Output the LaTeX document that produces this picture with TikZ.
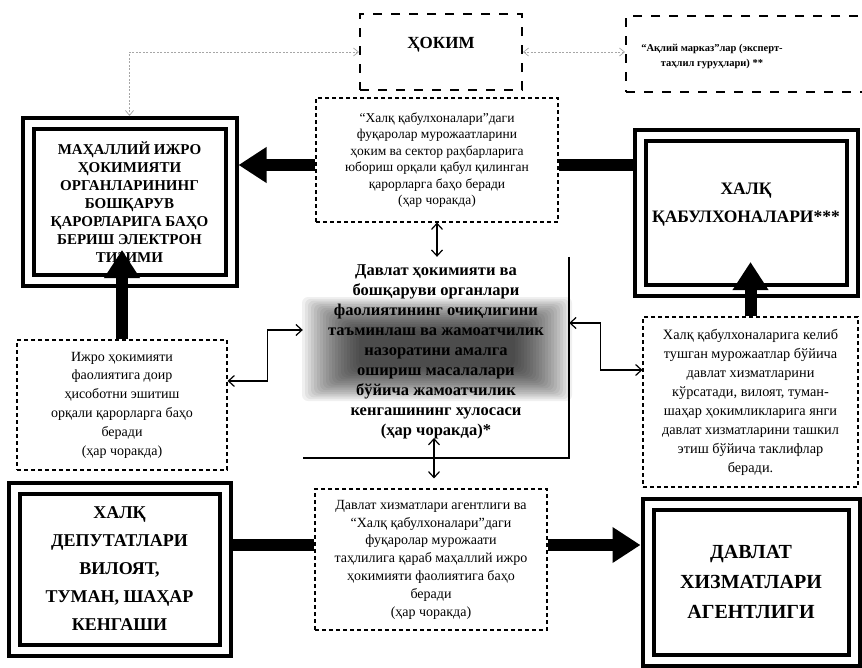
\documentclass[tikz,border=0pt]{standalone}
\usepackage{fontspec}
\setmainfont{Liberation Serif}
\usetikzlibrary{arrows.meta,calc}
\begin{document}
\begin{tikzpicture}[x=1pt,y=1pt,
  frame/.style={draw, double, double distance=7pt, line width=4pt, outer sep=7.5pt, inner sep=0pt, align=center},
  dbox/.style={draw, dash pattern=on 4pt off 3pt, line width=1.1pt, inner sep=0pt, align=center},
  hbox/.style={draw, dash pattern=on 9pt off 9pt, line width=2pt, inner sep=0pt},
  bigarrow/.style={line width=12pt, -{Triangle[length=28pt,width=34pt]}},
  thickbar/.style={line width=12pt},
  thinarrow/.style={line width=1.2pt, {Straight Barb[length=6pt,width=11pt]}-{Straight Barb[length=6pt,width=11pt]}},
  light/.style={gray!70, line width=0.7pt, dash pattern=on 2pt off 1.5pt, {Straight Barb[length=5pt,width=8pt]}-{Straight Barb[length=5pt,width=8pt]}},
]
\useasboundingbox (0,0) rectangle (862,-667);

% top dashed boxes
\node[hbox, minimum width=162pt, minimum height=76pt] (hokim) at (441,-52) {};
\node[font=\bfseries\fontsize{17}{20}\selectfont] (hokimt) at (441,-45) {ҲОКИМ};
\node[hbox, minimum width=240pt, minimum height=76pt] (aqliy) at (746,-54) {};
\node[font=\bfseries\fontsize{10.5}{15}\selectfont, align=center] (aqliyt) at (712,-56) {“Ақлий марказ”лар (эксперт-\\таҳлил гуруҳлари) **};

% text boxes
\node[dbox, minimum width=242pt, minimum height=124pt, font=\fontsize{13.5}{16.5}\selectfont] (topmid) at (437,-160)
  {“Халқ қабулхоналари”даги\\фуқаролар мурожаатларини\\ҳоким ва сектор раҳбарларига\\юбориш орқали қабул қилинган\\қарорларга баҳо беради\\(ҳар чоракда)};
\node[dbox, minimum width=210pt, minimum height=130pt, font=\fontsize{14}{18.8}\selectfont] (ijro) at (122,-405)
  {Ижро ҳокимияти\\фаолиятига доир\\ҳисоботни эшитиш\\орқали қарорларга баҳо\\беради\\(ҳар чоракда)};
\node[dbox, minimum width=215pt, minimum height=170pt, font=\fontsize{14.3}{19}\selectfont] (rmid) at (750.5,-402)
  {Халқ қабулхоналарига келиб\\тушган мурожаатлар бўйича\\давлат хизматларини\\кўрсатади, вилоят, туман-\\шаҳар ҳокимликларига янги\\давлат хизматларини ташкил\\этиш бўйича таклифлар\\беради.};
\node[dbox, minimum width=232pt, minimum height=141pt, font=\fontsize{14}{17.8}\selectfont] (bmid) at (431,-559.5)
  {Давлат хизматлари агентлиги ва\\“Халқ қабулхоналари”даги\\фуқаролар мурожаати\\таҳлилига қараб маҳаллий ижро\\ҳокимияти фаолиятига баҳо\\беради\\(ҳар чоракда)};

% framed boxes
\node[frame, minimum width=203pt, minimum height=157pt, font=\bfseries\fontsize{15}{18}\selectfont] (lbox) at (129.5,-202)
  {МАҲАЛЛИЙ ИЖРО\\ҲОКИМИЯТИ\\ОРГАНЛАРИНИНГ\\БОШҚАРУВ\\ҚАРОРЛАРИГА БАҲО\\БЕРИШ ЭЛЕКТРОН\\ТИЗИМИ};
\node[frame, minimum width=212pt, minimum height=155pt] (rbox) at (746,-212.5) {};
\node[font=\bfseries\fontsize{17.5}{28}\selectfont, align=center] (rboxt) at (746,-205) {ХАЛҚ\\ҚАБУЛХОНАЛАРИ***};
\node[frame, minimum width=211pt, minimum height=162pt, font=\bfseries\fontsize{18}{28}\selectfont] (blbox) at (119.5,-569)
  {ХАЛҚ\\ДЕПУТАТЛАРИ\\ВИЛОЯТ,\\ТУМАН, ШАҲАР\\КЕНГАШИ};
\node[frame, minimum width=206pt, minimum height=156pt, font=\bfseries\fontsize{20}{30}\selectfont] (brbox) at (751,-582)
  {ДАВЛАТ\\ХИЗМАТЛАРИ\\АГЕНТЛИГИ};

% centre
\node[minimum width=266pt, minimum height=201pt, inner sep=0pt] (center) at (436,-357.5) {};
\foreach \i in {0,...,19}
  \fill[black, opacity=0.06, rounded corners=6pt] ({302+\i*3},{-297-\i*1.8}) rectangle ({572-\i*3},{-401+\i*1.8});
\node[font=\bfseries\fontsize{16.5}{20}\selectfont, align=center] (centert) at (436,-352)
  {Давлат ҳокимияти ва\\бошқаруви органлари\\фаолиятининг очиқлигини\\таъминлаш ва жамоатчилик\\назоратини амалга\\ошириш масалалари\\бўйича жамоатчилик\\кенгашининг хулосаси\\(ҳар чоракда)*};
\draw[line width=1.8pt] (center.north east) -- (center.south east) -- (center.south west);

% coordinates
\coordinate (yA) at (0,-165);
\coordinate (yB) at (0,-381);
\coordinate (yC) at (0,-330);
\coordinate (yD) at (0,-323);
\coordinate (yE) at (0,-370);
\coordinate (yF) at (0,-545);
\coordinate (rtip) at (750.5,-262);
\coordinate (ltip) at (122,-250);
\coordinate (cbot) at (434,-438);

% connectors
\draw[light] (hokim.west) -| (lbox.north);
\draw[light] (hokim.east) -- (hokim.east -| aqliy.west);
\draw[bigarrow] (topmid.west |- yA) -- (lbox.east |- yA);
\draw[thickbar] (topmid.east |- yA) -- (rbox.west |- yA);
\draw[thinarrow] (topmid.south) -- (topmid.south |- center.north);
\draw[thinarrow] (ijro.east |- yB) -- ++(40,0) |- (center.west |- yC);
\draw[thinarrow] (center.east |- yD) -- ++(31,0) |- (rmid.west |- yE);
\draw[bigarrow] (rmid.north) -- (rtip);
\draw[bigarrow] (ijro.north) -- (ltip);
\draw[thinarrow, shorten >=10pt] (cbot) -- (cbot |- bmid.north);
\draw[thickbar] (blbox.east |- yF) -- (bmid.west |- yF);
\draw[bigarrow] (bmid.east |- yF) -- (brbox.west |- yF);
\end{tikzpicture}
\end{document}
